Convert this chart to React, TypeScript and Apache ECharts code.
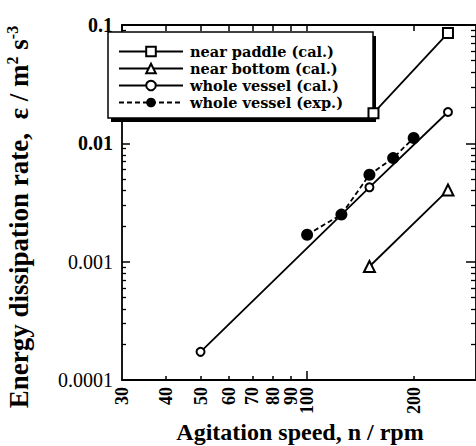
import React, { useEffect, useRef } from 'react';
import * as echarts from 'echarts';

const speedLabels = [30, 40, 50, 60, 70, 80, 90, 100, 200];
const speedMinorTicks = [40, 50, 60, 70, 80, 90, 200];
const speedMajorTicks = [100];
const speedTopTicks = [30, 40, 50, 60, 70, 80, 90, 100, 200];
const rateMinorTicks = [
  0.0002, 0.0003, 0.0004, 0.0005, 0.0006, 0.0007, 0.0008, 0.0009,
  0.002, 0.003, 0.004, 0.005, 0.006, 0.007, 0.008, 0.009,
  0.02, 0.03, 0.04, 0.05, 0.06, 0.07, 0.08, 0.09,
];

const nearPaddleX = [154, 250];
const nearPaddleY = [0.018, 0.0855];
const nearBottomX = [150, 250];
const nearBottomY = [0.00091, 0.00403];
const wholeCalX = [50, 150, 250];
const wholeCalY = [0.000173, 0.00425, 0.0184];
const wholeExpX = [100, 125, 150, 175, 200];
const wholeExpY = [0.00169, 0.0025, 0.00543, 0.0075, 0.0111];

const seriesNames = [
  'near paddle (cal.)',
  'near bottom (cal.)',
  'whole vessel (cal.)',
  'whole vessel (exp.)',
];

const FONT = '"Liberation Serif", "Times New Roman", serif';
const WIDE_FONT = '"DejaVu Serif", "Liberation Serif", serif';

const pairs = (xs: number[], ys: number[]) => xs.map((x, i) => [x, ys[i]]);

export default function App() {
  const ref = useRef<HTMLDivElement>(null);
  useEffect(() => {
    if (!ref.current) return;
    const chart = echarts.init(ref.current, undefined, { renderer: 'svg' });
    const black = '#000';
    const hiddenAxis = { show: false };
    const option: any = {
      animation: false,
      backgroundColor: '#fff',
      grid: { left: 122, top: 25, right: -7, bottom: 66, containLabel: false },
      xAxis: [
        {
          type: 'log', logBase: 10, min: 30, max: 300, position: 'bottom',
          axisLine: { show: true, lineStyle: { color: black, width: 1.8 } },
          axisTick: { show: true, inside: true, length: 4, customValues: speedMinorTicks, lineStyle: { color: black, width: 1.5 } },
          axisLabel: {
            customValues: speedLabels, rotate: 90, margin: 7,
            color: black, fontFamily: FONT, fontWeight: 'bold', fontSize: 18,
            formatter: (v: number) => String(Math.round(v)),
          },
          splitLine: { show: false },
        },
        {
          type: 'log', logBase: 10, min: 30, max: 300, position: 'bottom',
          axisLine: hiddenAxis,
          axisTick: { show: true, inside: true, length: 9, customValues: speedMajorTicks, lineStyle: { color: black, width: 1.5 } },
          axisLabel: { show: false },
          splitLine: { show: false },
        },
        {
          type: 'log', logBase: 10, min: 30, max: 300, position: 'top',
          axisLine: { show: true, lineStyle: { color: black, width: 1.8 } },
          axisTick: { show: true, inside: true, length: 6, customValues: speedTopTicks, lineStyle: { color: black, width: 1.5 } },
          axisLabel: { show: false },
          splitLine: { show: false },
        },
      ],
      yAxis: [
        {
          type: 'log', logBase: 10, min: 0.0001, max: 0.1, position: 'left', interval: 1,
          axisLine: { show: true, lineStyle: { color: black, width: 1.8 } },
          axisTick: { show: true, inside: true, length: 8, lineStyle: { color: black, width: 1.5 } },
          axisLabel: {
            margin: 9,
            formatter: (v: number) => {
              const s = v >= 0.1 ? '0.1' : v >= 0.01 ? '0.01' : v >= 0.001 ? '0.001' : '0.0001';
              return v >= 0.01 ? `{b|${s}}` : `{r|${s}}`;
            },
            rich: {
              b: { color: black, fontFamily: FONT, fontWeight: 'bold', fontSize: 20 },
              r: { color: black, fontFamily: FONT, fontWeight: 'normal', fontSize: 20 },
            },
          },
          splitLine: { show: false },
        },
        {
          type: 'log', logBase: 10, min: 0.0001, max: 0.1, position: 'left',
          axisLine: hiddenAxis,
          axisTick: { show: true, inside: true, length: 4, customValues: rateMinorTicks, lineStyle: { color: black, width: 1.3 } },
          axisLabel: { show: false },
          splitLine: { show: false },
        },
        {
          type: 'log', logBase: 10, min: 0.0001, max: 0.1, position: 'right', interval: 1,
          axisLine: { show: true, lineStyle: { color: black, width: 1.8 } },
          axisTick: { show: true, inside: true, length: 10, lineStyle: { color: black, width: 1.5 } },
          axisLabel: { show: false },
          splitLine: { show: false },
        },
        {
          type: 'log', logBase: 10, min: 0.0001, max: 0.1, position: 'right',
          axisLine: hiddenAxis,
          axisTick: { show: true, inside: true, length: 5, customValues: rateMinorTicks, lineStyle: { color: black, width: 1.3 } },
          axisLabel: { show: false },
          splitLine: { show: false },
        },
      ],
      legend: {
        show: true,
        orient: 'vertical',
        left: 118,
        top: 43,
        padding: 0,
        itemGap: 0,
        itemWidth: 64,
        itemHeight: 12,
        selectedMode: false,
        z: 10,
        data: seriesNames,
        textStyle: { color: black, fontFamily: WIDE_FONT, fontWeight: 'bold', fontSize: 14.5, lineHeight: 17, padding: [0, 0, 0, 2] },
      },
      graphic: [
        { type: 'rect', z: 8, shape: { x: 111, y: 36, width: 265, height: 86 }, style: { fill: black } },
        { type: 'rect', z: 9, shape: { x: 108, y: 32, width: 265, height: 86 }, style: { fill: '#fff', stroke: black, lineWidth: 1.5 } },
        {
          type: 'text', z: 9, x: 300, y: 432,
          style: { text: 'Agitation speed, n / rpm', fill: black, font: `bold 24px ${FONT}`, align: 'center', verticalAlign: 'middle' },
        },
        {
          type: 'text', z: 9, x: 19, y: 217, rotation: Math.PI / 2,
          style: {
            text: 'Energy dissipation rate,  ε / m{sup|2} s{sup|-3}',
            fill: black, font: `bold 27px ${FONT}`, align: 'center', verticalAlign: 'middle',
            rich: {
              sup: { fontFamily: FONT, fontWeight: 'bold', fontSize: 16, verticalAlign: 'top', fill: black, padding: [0, 0, 14, 0] },
            },
          },
        },
      ],
      series: [
        {
          name: seriesNames[0], type: 'line', xAxisIndex: 0, yAxisIndex: 0,
          data: pairs(nearPaddleX, nearPaddleY),
          symbol: 'emptyRect', symbolSize: 10, color: black, z: 11,
          lineStyle: { color: black, width: 1.8 }, itemStyle: { color: black, borderWidth: 1.6 },
        },
        {
          name: seriesNames[1], type: 'line', xAxisIndex: 0, yAxisIndex: 0,
          data: pairs(nearBottomX, nearBottomY),
          symbol: 'emptyTriangle', symbolSize: 11, color: black,
          lineStyle: { color: black, width: 1.8 }, itemStyle: { color: black, borderWidth: 1.6 },
        },
        {
          name: seriesNames[2], type: 'line', xAxisIndex: 0, yAxisIndex: 0,
          data: pairs(wholeCalX, wholeCalY),
          symbol: 'emptyCircle', symbolSize: 8, color: black, z: 3,
          lineStyle: { color: black, width: 1.8 }, itemStyle: { color: black, borderWidth: 1.6 },
        },
        {
          name: seriesNames[3], type: 'line', xAxisIndex: 0, yAxisIndex: 0,
          data: pairs(wholeExpX, wholeExpY),
          symbol: 'circle', symbolSize: 12, color: black,
          lineStyle: { color: black, width: 1.8, type: [5, 3] }, itemStyle: { color: black },
        },
      ],
    };
    chart.setOption(option);
    return () => chart.dispose();
  }, []);
  return (
    <div
      ref={ref}
      style={{ position: 'absolute', left: 0, top: 0, width: 476, height: 446, background: '#fff' }}
    />
  );
}
